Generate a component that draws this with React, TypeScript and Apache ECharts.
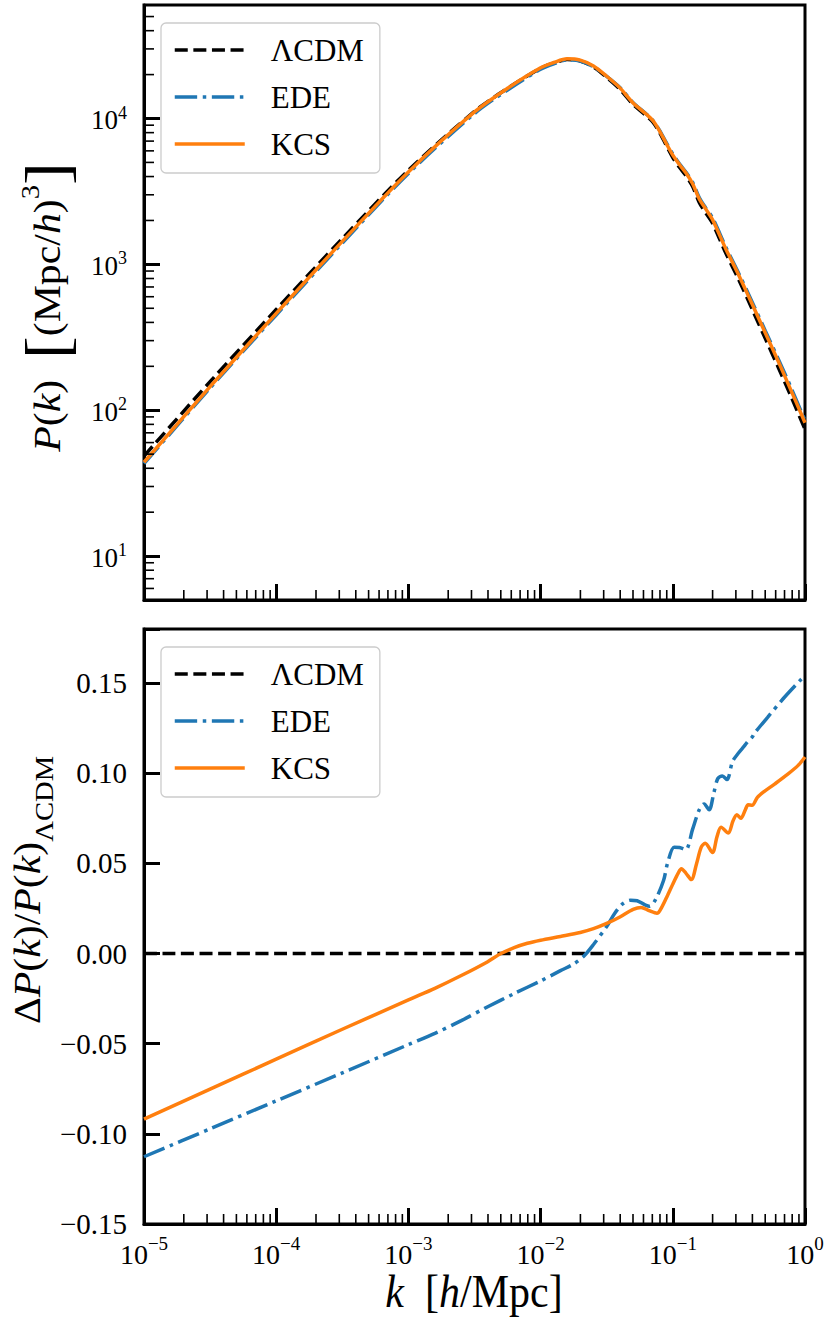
import React, { useEffect, useRef } from 'react';
import * as echarts from 'echarts';

const FONT = "'Liberation Serif', 'DejaVu Serif', serif";
const C_LCDM = '#000000';
const C_EDE = '#1f77b4';
const C_KCS = '#ff7f0e';
const SERIES_NAMES = ['\u039bCDM', 'EDE', 'KCS'];

// ---- top panel: P(k) [(Mpc/h)^3] vs k [h/Mpc]
const kTop = [
  1e-5, 3.162e-5, 1e-4, 3.162e-4, 1e-3, 3.162e-3, 5.623e-3, 0.01, 0.01259, 0.01585,
  0.01995, 0.02512, 0.03162, 0.03981, 0.05012, 0.0631, 0.07079, 0.07943, 0.08913, 0.1,
  0.1122, 0.1259, 0.1413, 0.1585, 0.1778, 0.1995, 0.2512, 0.3162, 0.3981, 0.5012,
  0.631, 0.7943, 1.0,
];
const pLCDM = [
  48.5, 157, 490, 1500, 4420, 11180, 16080, 22100, 23980, 25380,
  24810, 22560, 19150, 15890, 12480, 10440, 9440, 8020, 6560, 5400,
  4630, 4050, 3420, 2660, 2250, 1920, 1200, 781, 494, 310,
  195, 121, 74,
];
const pEDE = [
  43.0, 142, 450, 1401, 4197, 10810, 15690, 21760, 23710, 25180,
  24740, 22670, 19460, 16300, 12850, 10720, 9690, 8290, 6850, 5710,
  4900, 4280, 3650, 2870, 2430, 2090, 1320, 862, 553, 350,
  222, 139, 85,
];
const pKCS = [
  44.0, 145, 461, 1437, 4306, 11090, 16110, 22270, 24200, 25650,
  25110, 22880, 19480, 16220, 12790, 10690, 9660, 8200, 6760, 5610,
  4840, 4230, 3570, 2805, 2390, 2030, 1282, 840, 535, 338,
  214, 133, 82,
];

// ---- bottom panel: ΔP(k)/P(k)_ΛCDM
const kFlat = [1e-5, 1];
const ratioLCDM = [0, 0];

const kEDE = [
  1e-5, 3.162e-5, 1e-4, 3.162e-4, 1e-3, 1.585e-3, 2.512e-3, 3.981e-3, 6.31e-3, 0.01,
  0.01413, 0.01778, 0.02138, 0.02512, 0.03162, 0.03631, 0.04169, 0.04786, 0.0537, 0.06166,
  0.06683, 0.07413, 0.08511, 0.0912, 0.1023, 0.1122, 0.1253, 0.1413, 0.1585, 0.1726,
  0.1884, 0.2042, 0.2188, 0.2371, 0.257, 0.2831, 0.3162, 0.3467, 0.3681, 0.3981,
  0.413, 0.5212, 0.6966, 0.9333, 1.0,
];
const ratioEDE = [
  -0.1127, -0.0972, -0.0817, -0.0662, -0.0505, -0.0443, -0.0372, -0.0295, -0.0222, -0.0152,
  -0.0095, -0.0058, -0.0012, 0.005, 0.015, 0.0222, 0.0275, 0.0296, 0.0293, 0.027,
  0.0262, 0.03, 0.0405, 0.05, 0.059, 0.0588, 0.0576, 0.069, 0.0797, 0.083,
  0.0797, 0.089, 0.097, 0.0985, 0.0965, 0.1065, 0.1115, 0.115, 0.1175, 0.12,
  0.122, 0.131, 0.142, 0.152, 0.154,
];

const kKCS = [
  1e-5, 3.162e-5, 1e-4, 3.162e-4, 1e-3, 1.585e-3, 2.512e-3, 3.981e-3, 5.012e-3, 6.31e-3,
  7.943e-3, 0.01, 0.01413, 0.01995, 0.02512, 0.03162, 0.03981, 0.05012, 0.05754, 0.06607,
  0.07586, 0.08318, 0.0912, 0.1, 0.1096, 0.1161, 0.1259, 0.138, 0.1514, 0.1641,
  0.1758, 0.1995, 0.2163, 0.2317, 0.263, 0.2851, 0.3055, 0.3273, 0.3548, 0.3715,
  0.3981, 0.4365, 0.4898, 0.5888, 0.7413, 0.8913, 1.0,
];
const ratioKCS = [
  -0.0918, -0.0752, -0.0586, -0.042, -0.0257, -0.0193, -0.0122, -0.0045, 0.0, 0.0033,
  0.0057, 0.0074, 0.0095, 0.0117, 0.0138, 0.0167, 0.0203, 0.0245, 0.0256, 0.0238,
  0.0223, 0.0262, 0.0322, 0.0385, 0.0445, 0.047, 0.0445, 0.041, 0.05, 0.059,
  0.0612, 0.056, 0.065, 0.07, 0.0668, 0.0735, 0.077, 0.075, 0.08, 0.0825,
  0.0822, 0.0866, 0.0898, 0.094, 0.0995, 0.1045, 0.109,
];

// ---- axes
const X_MIN = 1e-5;
const X_MAX = 1;
const Y_TOP_MIN = 5;
const Y_TOP_MAX = 6e4;
const Y_BOT_MIN = -0.15;
const Y_BOT_MAX = 0.18;
const Y_BOT_STEP = 0.05;
const xDecades = [1e-5, 1e-4, 1e-3, 1e-2, 1e-1];
const yDecadesTop = [1, 10, 100, 1000, 10000];
const minorMult = [2, 3, 4, 5, 6, 7, 8, 9];

const xMinorTicks = xDecades.flatMap((d) => minorMult.map((m) => m * d));
const yMinorTicksTop = yDecadesTop
  .flatMap((d) => minorMult.map((m) => m * d))
  .filter((v) => v > Y_TOP_MIN * 1.0001 && v < Y_TOP_MAX * 0.9999);

const pairs = (xs: number[], ys: number[]) => xs.map((x, i) => [x, ys[i]]);

const logLabel = (v: number) => {
  const e = Math.log10(v);
  const r = Math.round(e);
  if (Math.abs(e - r) > 1e-6) return '';
  const s = r < 0 ? '\u2212' + String(-r) : String(r);
  return `{b|10}{s|${s}}`;
};

const richLog = (main: number, sup: number, lh: number) => ({
  b: { fontFamily: FONT, fontSize: main, color: '#000', lineHeight: lh, verticalAlign: 'bottom' },
  s: { fontFamily: FONT, fontSize: sup, color: '#000', lineHeight: sup, verticalAlign: 'top' },
});

const DASHED = [13, 5.6];
const DASHDOT = [22.4, 5.6, 3.5, 5.6];
const LW = 3.5;

function lineSeries(name: string, data: number[][], color: string, type: any, idx: number) {
  return {
    type: 'line',
    name,
    xAxisIndex: idx,
    yAxisIndex: idx,
    data,
    symbol: 'none',
    showSymbol: false,
    smooth: 0.3,
    clip: true,
    color,
    itemStyle: { color },
    lineStyle: { color, width: LW, type, cap: 'butt' },
    emphasis: { disabled: true },
  };
}

function minorXSeries(idx: number, yBase: number) {
  return {
    type: 'custom',
    name: 'minor-x-' + idx,
    xAxisIndex: idx,
    yAxisIndex: idx,
    silent: true,
    clip: false,
    z: 5,
    data: xMinorTicks.map((v) => [v, yBase]),
    renderItem: (_p: any, api: any) => {
      const p = api.coord([api.value(0), api.value(1)]);
      return {
        type: 'line',
        shape: { x1: p[0], y1: p[1], x2: p[0], y2: p[1] - 10 },
        style: { stroke: '#000', lineWidth: 1.6 },
      };
    },
  };
}

function minorYSeries(idx: number, xBase: number, values: number[]) {
  return {
    type: 'custom',
    name: 'minor-y-' + idx,
    xAxisIndex: idx,
    yAxisIndex: idx,
    silent: true,
    clip: false,
    z: 5,
    data: values.map((v) => [xBase, v]),
    renderItem: (_p: any, api: any) => {
      const p = api.coord([api.value(0), api.value(1)]);
      return {
        type: 'line',
        shape: { x1: p[0], y1: p[1], x2: p[0] + 10, y2: p[1] },
        style: { stroke: '#000', lineWidth: 1.6 },
      };
    },
  };
}

const axisLineStyle = { onZero: false, lineStyle: { color: '#000', width: 3 } };
const majorTick = { inside: true, length: 16, lineStyle: { color: '#000', width: 3 } };

function legendAt(top: number) {
  return {
    data: SERIES_NAMES,
    orient: 'vertical',
    left: 161,
    top,
    padding: [10, 16, 12, 12],
    itemWidth: 70,
    itemHeight: 14,
    itemGap: 13,
    selectedMode: false,
    backgroundColor: 'rgba(255,255,255,0.8)',
    borderColor: '#cccccc',
    borderWidth: 1.3,
    borderRadius: 5,
    itemStyle: { opacity: 0, borderWidth: 0 },
    lineStyle: { width: LW },
    textStyle: {
      fontFamily: FONT,
      fontSize: 31,
      color: '#000',
      lineHeight: 34,
      padding: [0, 0, 0, 21],
    },
  };
}

const titleRich = {
  r: { fontFamily: FONT, fontSize: 38, color: '#000', lineHeight: 60 },
  i: { fontFamily: FONT, fontSize: 38, fontStyle: 'italic', color: '#000', lineHeight: 60 },
  br: { fontFamily: FONT, fontSize: 62, color: '#000', lineHeight: 60 },
  sup: { fontFamily: FONT, fontSize: 26, color: '#000', lineHeight: 40, verticalAlign: 'top' },
  sub: { fontFamily: FONT, fontSize: 26, color: '#000', lineHeight: 30, verticalAlign: 'bottom' },
};

export default function App() {
  const ref = useRef<HTMLDivElement>(null);

  useEffect(() => {
    if (!ref.current) return;
    const chart = echarts.init(ref.current, null, { renderer: 'svg' });

    const option: any = {
      animation: false,
      backgroundColor: '#ffffff',
      textStyle: { fontFamily: FONT },
      grid: [
        { left: 144, top: 5, width: 661, height: 595, show: true, borderColor: '#000', borderWidth: 3, backgroundColor: 'transparent' },
        { left: 144, top: 629, width: 661, height: 595, show: true, borderColor: '#000', borderWidth: 3, backgroundColor: 'transparent' },
      ],
      legend: [legendAt(23), legendAt(647)],
      xAxis: [
        {
          type: 'log', logBase: 10, gridIndex: 0, min: X_MIN, max: X_MAX,
          axisLine: axisLineStyle, axisTick: majorTick,
          axisLabel: { show: false }, splitLine: { show: false },
        },
        {
          type: 'log', logBase: 10, gridIndex: 1, min: X_MIN, max: X_MAX,
          axisLine: axisLineStyle, axisTick: majorTick,
          axisLabel: {
            formatter: logLabel, margin: 10, color: '#000', fontFamily: FONT,
            rich: richLog(28, 19, 34),
          },
          splitLine: { show: false },
        },
      ],
      yAxis: [
        {
          type: 'log', logBase: 10, gridIndex: 0, min: Y_TOP_MIN, max: Y_TOP_MAX,
          axisLine: axisLineStyle, axisTick: majorTick,
          axisLabel: {
            formatter: logLabel, margin: 17, color: '#000', fontFamily: FONT,
            showMinLabel: false, showMaxLabel: false,
            rich: richLog(27, 18, 30),
          },
          splitLine: { show: false },
        },
        {
          type: 'value', gridIndex: 1, min: Y_BOT_MIN, max: Y_BOT_MAX, interval: Y_BOT_STEP,
          axisLine: axisLineStyle, axisTick: majorTick,
          axisLabel: {
            margin: 17, color: '#000', fontFamily: FONT, fontSize: 29,
            formatter: (v: number) => {
              if (v > 0.16 || v < -0.16) return '';
              const a = Math.abs(v) < 1e-9 ? 0 : v;
              return (a < 0 ? '\u2212' : '') + Math.abs(a).toFixed(2);
            },
          },
          splitLine: { show: false },
        },
      ],
      series: [
        lineSeries(SERIES_NAMES[0], pairs(kTop, pLCDM), C_LCDM, DASHED, 0),
        lineSeries(SERIES_NAMES[1], pairs(kTop, pEDE), C_EDE, DASHDOT, 0),
        lineSeries(SERIES_NAMES[2], pairs(kTop, pKCS), C_KCS, 'solid', 0),
        lineSeries(SERIES_NAMES[0], pairs(kFlat, ratioLCDM), C_LCDM, DASHED, 1),
        lineSeries(SERIES_NAMES[1], pairs(kEDE, ratioEDE), C_EDE, DASHDOT, 1),
        lineSeries(SERIES_NAMES[2], pairs(kKCS, ratioKCS), C_KCS, 'solid', 1),
        minorXSeries(0, Y_TOP_MIN),
        minorXSeries(1, Y_BOT_MIN),
        minorYSeries(0, X_MIN, yMinorTicksTop),
      ],
      graphic: [
        {
          type: 'text',
          x: 47, y: 307,
          rotation: Math.PI / 2,
          scaleX: 1.1,
          style: {
            text: '{i|P}{r|(}{i|k}{r|)  }{br|[}{r|(Mpc/}{i|h}{r|)}{sup|3}{br|]}',
            rich: titleRich,
            align: 'center',
            verticalAlign: 'middle',
          },
        },
        {
          type: 'text',
          x: 27, y: 890,
          rotation: Math.PI / 2,
          scaleX: 1.1,
          style: {
            text: '{r|\u0394}{i|P}{r|(}{i|k}{r|)/}{i|P}{r|(}{i|k}{r|)}{sub|\u039bCDM}',
            rich: titleRich,
            align: 'center',
            verticalAlign: 'middle',
          },
        },
        {
          type: 'text',
          x: 474, y: 1291,
          scaleY: 1.12,
          style: {
            text: '{i|k}{r|  [}{i|h}{r|/Mpc]}',
            rich: {
              r: { fontFamily: FONT, fontSize: 42, color: '#000' },
              i: { fontFamily: FONT, fontSize: 42, fontStyle: 'italic', color: '#000' },
            },
            align: 'center',
            verticalAlign: 'middle',
          },
        },
      ],
    };

    chart.setOption(option);
    return () => {
      chart.dispose();
    };
  }, []);

  return (
    <div
      ref={ref}
      style={{ position: 'absolute', left: 0, top: 0, width: 830, height: 1321, background: '#fff' }}
    />
  );
}
